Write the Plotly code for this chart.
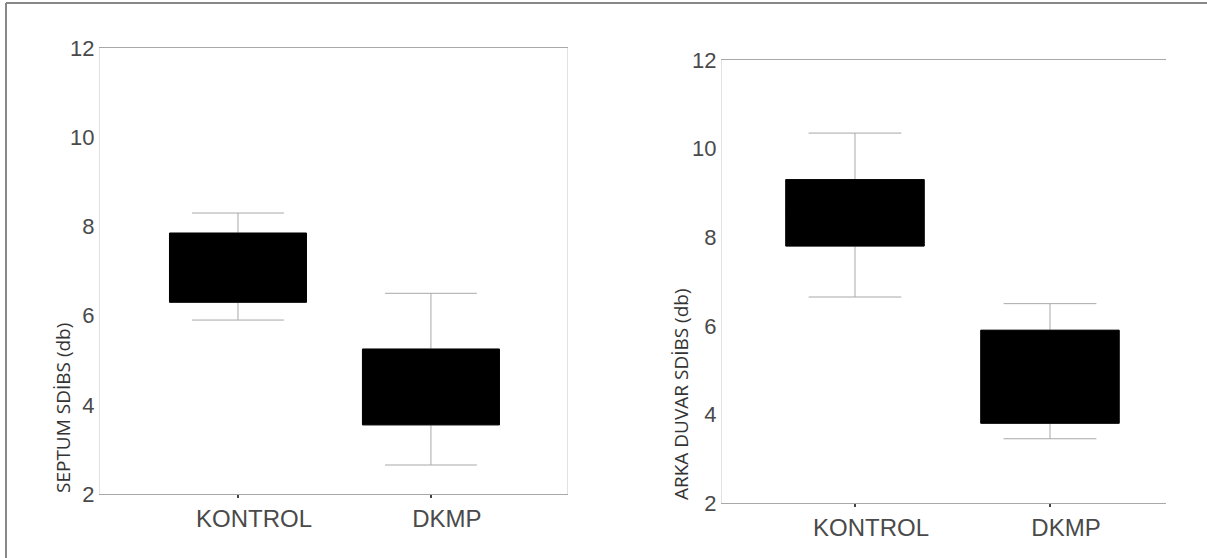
import plotly.graph_objects as go
from plotly.subplots import make_subplots

# ---- data ----
categories = ["KONTROL", "DKMP"]
tick_vals = [2, 4, 6, 8, 10, 12]

septum_lower = [5.9, 2.65]
septum_q1 = [6.3, 3.55]
septum_median = [7.0, 4.4]
septum_q3 = [7.85, 5.25]
septum_upper = [8.3, 6.5]

arka_lower = [6.65, 3.45]
arka_q1 = [7.8, 3.8]
arka_median = [8.5, 4.8]
arka_q3 = [9.3, 5.9]
arka_upper = [10.35, 6.5]

W, H = 1207, 558

fig = make_subplots(rows=1, cols=2)

def add_panel(col, lo, q1, med, q3, up):
    # whiskers (gray) + box
    fig.add_trace(go.Box(
        x=categories, q1=q1, median=med, q3=q3, lowerfence=lo, upperfence=up,
        fillcolor="black", line=dict(color="#a8a8a8", width=1),
        whiskerwidth=0.67, width=0.71, boxpoints=False, showlegend=False,
        hoverinfo="skip"), row=1, col=col)
    # solid black box body on top (hides median/edges)
    fig.add_trace(go.Box(
        x=categories, q1=q1, median=med, q3=q3, lowerfence=q1, upperfence=q3,
        fillcolor="black", line=dict(color="black", width=1),
        whiskerwidth=0, width=0.71, boxpoints=False, showlegend=False,
        hoverinfo="skip"), row=1, col=col)

add_panel(1, septum_lower, septum_q1, septum_median, septum_q3, septum_upper)
add_panel(2, arka_lower, arka_q1, arka_median, arka_q3, arka_upper)

def fx(px):
    return px / W

def fy(py):
    return 1 - py / H

tickfont = dict(family="Liberation Sans, Arial, sans-serif", size=22, color="#4a4a4a")
catfont = dict(family="Liberation Sans, Arial, sans-serif", size=24, color="#4a4a4a")

fig.update_layout(
    width=W, height=H,
    margin=dict(l=0, r=0, t=0, b=0),
    paper_bgcolor="white", plot_bgcolor="white",
    boxmode="overlay",
    xaxis=dict(domain=[fx(100), fx(567)], range=[-0.715, 1.705],
               showline=True, linecolor="#a8a8a8", linewidth=1, mirror=True,
               ticks="outside", ticklen=3, tickwidth=2, tickcolor="#444",
               showgrid=False, zeroline=False, tickfont=catfont,
               ticklabelshift=16, automargin=False),
    yaxis=dict(domain=[fy(494), fy(48)], range=[2, 12], tickvals=tick_vals,
               showline=True, linecolor="#e2e2e2", linewidth=1, mirror=True,
               ticks="", showgrid=False, zeroline=False, tickfont=tickfont,
               automargin=False),
    xaxis2=dict(domain=[fx(722), fx(1166)], range=[-0.682, 1.595],
                showline=True, linecolor="#a8a8a8", linewidth=1, mirror=True,
                ticks="outside", ticklen=3, tickwidth=2, tickcolor="#444",
                showgrid=False, zeroline=False, tickfont=catfont,
                ticklabelshift=16, automargin=False),
    yaxis2=dict(domain=[fy(503), fy(60)], range=[2, 12], tickvals=tick_vals,
                showline=True, linecolor="#e2e2e2", linewidth=1, mirror=False,
                ticks="", showgrid=False, zeroline=False, tickfont=tickfont,
                automargin=False),
)

titlefont = dict(family="Open Sans, sans-serif", size=19, color="#333")
fig.add_annotation(text="SEPTUM SDİBS (db)", textangle=-90, xref="paper", yref="paper",
                   x=fx(63), y=fy(408), showarrow=False, font=titlefont,
                   xanchor="center", yanchor="middle")
fig.add_annotation(text="ARKA DUVAR SDİBS (db)", textangle=-90, xref="paper", yref="paper",
                   x=fx(681), y=fy(394), showarrow=False, font=titlefont,
                   xanchor="center", yanchor="middle")

# outer frame (top and left edges)
fig.add_shape(type="line", xref="paper", yref="paper", x0=fx(6), x1=fx(1207),
              y0=fy(3), y1=fy(3), line=dict(color="#888", width=2))
fig.add_shape(type="line", xref="paper", yref="paper", x0=fx(6), x1=fx(6),
              y0=fy(3), y1=fy(558), line=dict(color="#888", width=2))

fig.write_html("out.html", config={"displayModeBar": False},
               post_script="document.body.style.margin='0';document.body.style.overflow='hidden';")
